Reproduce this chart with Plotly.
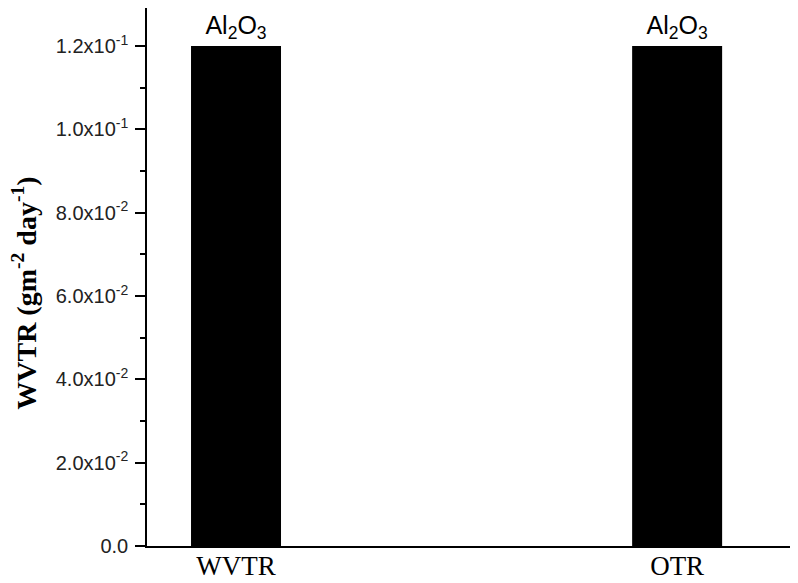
import plotly.graph_objects as go

categories = ["WVTR", "OTR"]
values = [0.12, 0.12]
bar_labels = ["Al<sub>2</sub>O<sub>3</sub>", "Al<sub>2</sub>O<sub>3</sub>"]
ytick_vals = [0.0, 0.02, 0.04, 0.06, 0.08, 0.10, 0.12]
ytick_text = ["0.0", "2.0x10<sup>-2</sup>", "4.0x10<sup>-2</sup>", "6.0x10<sup>-2</sup>",
              "8.0x10<sup>-2</sup>", "1.0x10<sup>-1</sup>", "1.2x10<sup>-1</sup>"]
yminor_vals = [0.01, 0.03, 0.05, 0.07, 0.09, 0.11]
y_title = "<b>WVTR (gm<sup>-2</sup> day<sup>-1</sup>)</b>"

fig = go.Figure()
fig.add_trace(go.Bar(
    x=categories, y=values, width=0.204,
    marker=dict(color="black", line=dict(width=0)),
    text=bar_labels, textposition="outside", cliponaxis=False,
    textfont=dict(family="Liberation Sans", size=25, color="black"),
))

fig.add_annotation(
    text=y_title, textangle=-90, showarrow=False,
    xref="paper", yref="paper", x=-0.188, y=0.47,
    xanchor="center", yanchor="middle",
    font=dict(family="Liberation Serif", size=28, color="black"),
)

fig.update_layout(
    width=790, height=575,
    margin=dict(l=139, r=0, t=0, b=37, autoexpand=False),
    paper_bgcolor="white", plot_bgcolor="white",
    showlegend=False,
    xaxis=dict(
        type="category", range=[-0.2018, 1.274], automargin=False,
        showline=True, linecolor="black", linewidth=1.5, mirror=True,
        ticks="", showgrid=False, zeroline=False,
        ticklabelstandoff=-5,
        tickfont=dict(family="Liberation Serif", size=27, color="black"),
    ),
    yaxis=dict(
        range=[0, 0.1291], automargin=False,
        tickmode="array", tickvals=ytick_vals, ticktext=ytick_text,
        ticks="outside", ticklen=10, tickwidth=1.5, tickcolor="black",
        ticklabelstandoff=3,
        showline=True, linecolor="black", linewidth=1.5,
        showgrid=False, zeroline=False,
        tickfont=dict(family="Liberation Sans", size=20, color="#222"),
        minor=dict(tickvals=yminor_vals, ticks="outside", ticklen=5,
                   tickwidth=1.5, tickcolor="black", showgrid=False),
    ),
)

fig.write_html("out.html")
